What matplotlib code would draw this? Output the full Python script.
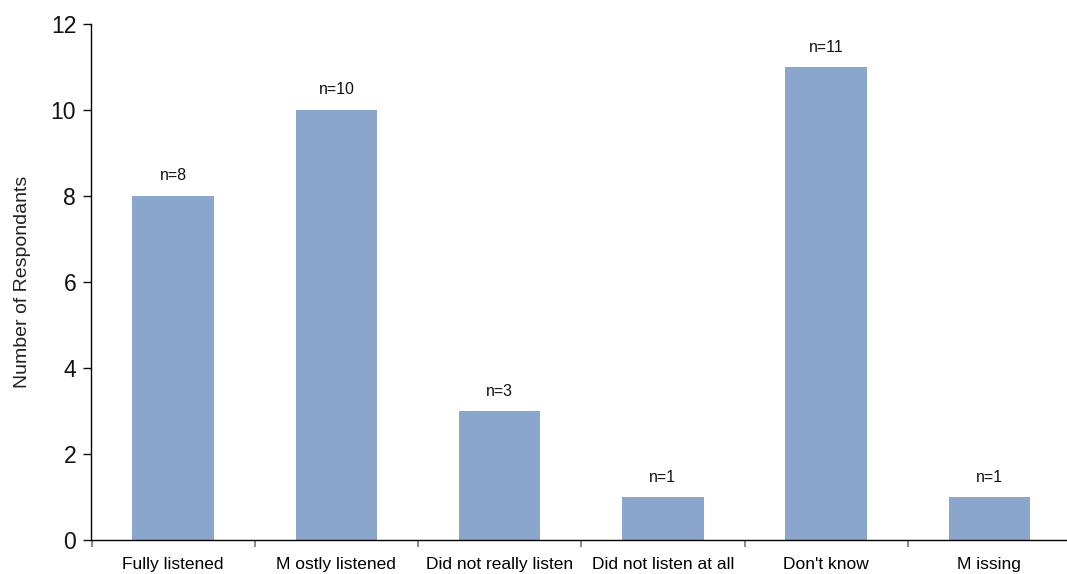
import matplotlib
matplotlib.use("Agg")
import matplotlib.pyplot as plt
import numpy as np

# Survey responses per category
categories = ["Fully listened", "M ostly listened", "Did not really listen",
              "Did not listen at all", "Don't know", "M issing"]
counts = [8, 10, 3, 1, 11, 1]
y_ticks = [0, 2, 4, 6, 8, 10, 12]

BAR_COLOR = "#8AA6CC"

plt.rcParams["font.family"] = ["Liberation Sans", "DejaVu Sans"]

fig = plt.figure(figsize=(10.67, 5.74), dpi=100)
ax = fig.add_axes([91.5 / 1067, 34 / 574, 979.5 / 1067, 516 / 574])

x = np.arange(len(categories))
bars = ax.bar(x, counts, width=0.5, color=BAR_COLOR, zorder=2)

for xi, v in zip(x, counts):
    ax.annotate(f"n={v}", (xi, v), xytext=(0, 9), textcoords="offset points",
                ha="center", va="bottom", fontsize=11.5, color="#111111")

ax.set_xlim(-0.5, len(categories) - 0.5)
ax.set_ylim(0, 12)
ax.set_yticks(y_ticks)
ax.tick_params(axis="y", labelsize=16.5, length=6, width=1, direction="out",
               colors="#111111", pad=5)

# boundary ticks between categories, labels sit on minor ticks at the centres
ax.set_xticks(np.arange(-0.5, len(categories), 1.0))
ax.set_xticklabels([])
ax.tick_params(axis="x", which="major", length=5, width=1.2, color="#777777")
ax.set_xticks(x, minor=True)
ax.set_xticklabels(categories, minor=True, fontsize=12.5)
ax.tick_params(axis="x", which="minor", length=0, pad=12)

for side in ("top", "right"):
    ax.spines[side].set_visible(False)
ax.spines["left"].set_color("black")
ax.spines["bottom"].set_color("black")
ax.spines["left"].set_linewidth(1)
ax.spines["bottom"].set_linewidth(1)

ax.set_ylabel("Number of Respondants", fontsize=14, color="#222222", labelpad=14)

fig.savefig("out.png", dpi=100)
